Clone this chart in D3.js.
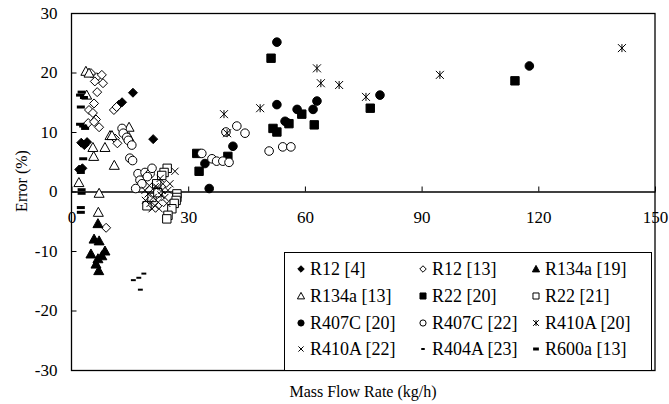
<!DOCTYPE html>
<html>
<head>
<meta charset="utf-8">
<script src="https://cdn.jsdelivr.net/npm/d3@7"></script>
<style>
  body { margin: 0; background: #fff; }
  svg text { font-family: "Liberation Serif", "Times New Roman", Times, serif; fill: #000; }
</style>
</head>
<body>
<div id="chart"></div>
<script>
// values: [mass flow rate (kg/h), error (%)]
var r12_4 = [[2.5,8.2],[3.3,7.8],[4,8.3],[2,3.7],[2.8,3.9],[12.2,14.6],[13,15],[15.8,16.6],[21,8.8]];
var r12_13 = [[5,19.9],[6.5,19.2],[7.8,19.6],[6,18.5],[8.1,18.2],[6.6,16.7],[5.8,14.8],[4.5,13.7],[5.5,13.2],
    [6.3,12.1],[7.1,10.8],[10.9,13.7],[11.6,14.2],[11.2,8.9],[11.8,8.1],[8.9,-6.1],[4.3,11.5],[5.8,11.7]];
var r134a_19 = [[6.8,-5.4],[5.8,-8],[7.1,-8.3],[8.6,-10],[5,-10.5],[6.8,-11.3],[7.8,-10.8],[6.3,-12.2],[7,-13.3]];
var r134a_13 = [[3.7,20.2],[4.5,19.9],[3.9,16.2],[14.8,10.8],[9.9,9.4],[10.4,9.4],[8.6,7.4],[5.5,7.4],[5.7,5.9],
    [11,4.4],[1.9,1.5],[7.1,-0.3],[6.9,-3.5],[14.8,9.1]];
var r22_20 = [[51.3,22.4],[32.2,6.4],[32.8,3.4],[40.2,5.9],[51.8,10.6],[52.8,10],[55.9,11.4],[59.2,13],[62.4,11.2],
    [76.8,14],[114,18.6]];
var r22_21 = [[24.6,3.9],[23.8,3.2],[23.2,2.7],[27.1,-0.4],[27.1,-1],[26.9,-1.5],[26.4,-2],[25.8,-2.9],[24.8,-4],
    [24.5,-4.6],[19.4,-2.4],[20.7,-1],[22.2,-0.2],[21.9,1.3]];
var r407c_20 = [[52.8,25.1],[35.4,0.5],[34.3,4.7],[41.5,7.6],[52.8,14.6],[58,13.8],[54.9,11.8],[62.1,13.8],
    [63.1,15.2],[79.3,16.2],[117.7,21.1],[55.6,11.5]];
var r407c_22 = [[33.5,6.4],[36.1,5.5],[37.3,5.1],[38.9,5.1],[40.5,4.9],[39.7,10],[42.5,11],[44.6,9.8],[50.8,6.8],
    [54.3,7.5],[56.4,7.5],[13,10.6],[13.3,9.8],[14.2,9.1],[14.6,8.6],[15.5,7.8],[15,5.6],[15.7,5.2],[17.1,3],
    [18.9,3.2],[20.2,3],[17.6,1.9],[18.1,1.3],[20.7,3.9],[19.5,2.5],[16.5,0.5]];
var r410a_20 = [[39.2,13],[40,9.8],[48.5,14],[63.1,20.7],[64.1,18.2],[68.8,17.9],[75.7,15.9],[94.7,19.6],[141.5,24.1]];
var r410a_22 = [[26.6,3.4],[22,0.7],[23.3,0.2],[21,-1],[22.3,-1.8],[20.2,-2],[24,-1],[24.8,0.2],[19.7,-0.4],
    [18.9,0.2],[23.5,1.3],[22.8,2.2],[25.3,1.3],[21.5,-2.4],[20.7,-2.9],[21.5,0.8],[20,1],[23,-0.6],[19,-1.5],
    [24.5,-2],[22.5,-2.9]];
var r404a_23 = [[18.6,-13.8],[17.3,-14.5],[15.9,-14.9],[17.7,-16.5]];
var r600a_13 = [[2.6,16.7],[2.2,16.2],[3.2,15.8],[2.4,14.2],[2.2,11.3],[3,11],[3.5,10.6],[3,5.5],[2.4,3.2],
    [2.6,0.3],[2.6,-0.3],[2.4,-2.7],[2.4,-3.5]];

var xTicks = [0, 30, 60, 90, 120, 150];
var yTicks = [-30, -20, -10, 0, 10, 20, 30];

var series = [
    {name: "R12 [4]", data: r12_4, shape: "diamond", filled: true},
    {name: "R12 [13]", data: r12_13, shape: "diamond", filled: false},
    {name: "R134a [19]", data: r134a_19, shape: "triangle", filled: true},
    {name: "R134a [13]", data: r134a_13, shape: "triangle", filled: false},
    {name: "R22 [20]", data: r22_20, shape: "square", filled: true},
    {name: "R22 [21]", data: r22_21, shape: "square", filled: false},
    {name: "R407C [20]", data: r407c_20, shape: "circle", filled: true},
    {name: "R407C [22]", data: r407c_22, shape: "circle", filled: false},
    {name: "R410A [20]", data: r410a_20, shape: "star", filled: false},
    {name: "R410A [22]", data: r410a_22, shape: "cross", filled: false},
    {name: "R404A [23]", data: r404a_23, shape: "dash", filled: true},
    {name: "R600a [13]", data: r600a_13, shape: "longdash", filled: true}
];

var width = 669, height = 404;
var plot = {left: 71.5, right: 655, top: 13, bottom: 370};
var serif = "'Liberation Serif', 'Times New Roman', Times, serif";

var svg = d3.select("#chart").append("svg")
    .attr("width", width)
    .attr("height", height)
    .attr("font-family", serif);

var x = d3.scaleLinear().domain([0, 150]).range([plot.left, plot.right]);
var y = d3.scaleLinear().domain([-30, 30]).range([plot.bottom, plot.top]);

// marker outline for a shape, s = half size
function shapePath(shape, s) {
    if (shape == "diamond") return "M0," + (-s) + "L" + s + ",0L0," + s + "L" + (-s) + ",0Z";
    if (shape == "triangle") return "M0," + (-s) + "L" + s + "," + (s * 0.8) + "L" + (-s) + "," + (s * 0.8) + "Z";
    if (shape == "square") return "M" + (-s) + "," + (-s) + "H" + s + "V" + s + "H" + (-s) + "Z";
    if (shape == "circle") return d3.symbol(d3.symbolCircle, Math.PI * s * s)();
    if (shape == "cross") return "M" + (-s) + "," + (-s) + "L" + s + "," + s + "M" + s + "," + (-s) + "L" + (-s) + "," + s;
    if (shape == "star") return "M" + (-s) + "," + (-s) + "L" + s + "," + s + "M" + s + "," + (-s) + "L" + (-s) + "," + s +
        "M0," + (-s) + "V" + s;
    if (shape == "dash") return "M" + (-s * 0.7) + ",-1H" + (s * 0.7) + "V1H" + (-s * 0.7) + "Z";
    if (shape == "longdash") return "M" + (-s) + ",-1.5H" + s + "V1.5H" + (-s) + "Z";
}

var sizes = {diamond: 4.5, triangle: 5, square: 4.2, circle: 4.3, cross: 3.6, star: 4, dash: 3.5, longdash: 4};

function styleMarker(sel, d) {
    var line = (d.shape == "cross" || d.shape == "star");
    sel.attr("fill", line ? "none" : (d.filled ? "#000" : "#fff"))
        .attr("stroke", (d.shape == "dash" || d.shape == "longdash") ? "none" : "#000")
        .attr("stroke-width", 1);
}

// plot frame
svg.append("rect")
    .attr("x", plot.left)
    .attr("y", plot.top + 0.5)
    .attr("width", plot.right - plot.left)
    .attr("height", plot.bottom - plot.top)
    .attr("fill", "none")
    .attr("stroke", "#000")
    .attr("stroke-width", 1.3);

// y axis
var yAxis = svg.append("g")
    .attr("transform", "translate(" + plot.left + ",0)")
    .call(d3.axisLeft(y).tickValues(yTicks).tickFormat(function(d) { return String(d); })
        .tickSizeInner(-5).tickSizeOuter(0).tickPadding(14));
yAxis.select(".domain").remove();
yAxis.attr("font-family", serif).attr("font-size", 17);

// x axis along zero
var xAxis = svg.append("g")
    .attr("transform", "translate(0," + y(0) + ")")
    .call(d3.axisBottom(x).tickValues(xTicks).tickFormat(function(d) { return String(d); })
        .tickSizeInner(-5).tickSizeOuter(0).tickPadding(19));
xAxis.select(".domain").attr("stroke-width", 1.3);
xAxis.attr("font-family", serif).attr("font-size", 17);

// points
series.forEach(function(d) {
    svg.append("g")
        .attr("class", "series")
        .selectAll("path")
        .data(d.data).enter()
        .append("path")
        .attr("transform", function(p) { return "translate(" + x(p[0]) + "," + y(p[1]) + ")"; })
        .attr("d", shapePath(d.shape, sizes[d.shape]))
        .call(styleMarker, d);
});

// axis titles
svg.append("text")
    .attr("transform", "translate(27,181)rotate(-90)")
    .attr("text-anchor", "middle")
    .attr("font-size", 16)
    .text("Error (%)");

svg.append("text")
    .attr("x", 363)
    .attr("y", 397)
    .attr("text-anchor", "middle")
    .attr("font-size", 16)
    .text("Mass Flow Rate (kg/h)");

// legend
var legend = svg.append("g").attr("class", "legend");
legend.append("rect")
    .attr("x", 284.5)
    .attr("y", 252.5)
    .attr("width", 367)
    .attr("height", plot.bottom - 252)
    .attr("fill", "#fff")
    .attr("stroke", "#000")
    .attr("stroke-width", 1);

var colX = [301, 423, 536];
var rowY = [269, 296, 323, 349];

var item = legend.selectAll(".item")
    .data(series).enter()
    .append("g")
    .attr("class", "item")
    .attr("transform", function(d, i) { return "translate(" + colX[i % 3] + "," + rowY[Math.floor(i / 3)] + ")"; });

item.append("path")
    .attr("d", function(d) { return shapePath(d.shape, sizes[d.shape] * 0.72); })
    .each(function(d) { d3.select(this).call(styleMarker, d); });

item.append("text")
    .attr("x", 9)
    .attr("y", 6)
    .attr("font-size", 18)
    .text(function(d) { return d.name; });
</script>
</body>
</html>
